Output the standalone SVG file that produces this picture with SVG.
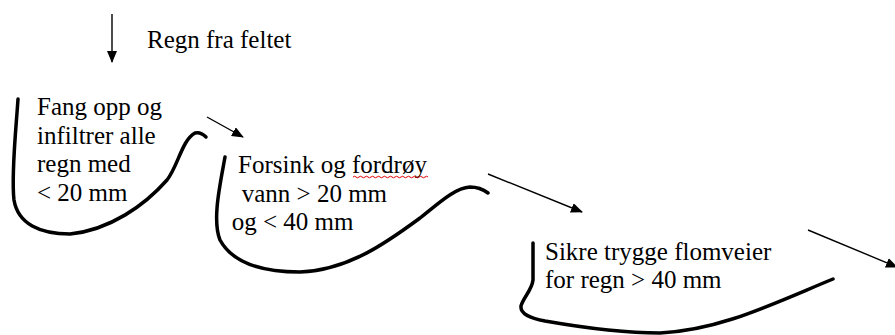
<svg xmlns="http://www.w3.org/2000/svg" width="895" height="335" viewBox="0 0 895 335">
<defs>
<style>
.c{fill:none;stroke:#000;stroke-width:3.5;stroke-linecap:round;stroke-linejoin:round}
.a{fill:none;stroke:#000;stroke-width:1.4}
</style>
<marker id="ah" viewBox="0 0 12 10" refX="11" refY="5" markerWidth="12" markerHeight="10" markerUnits="userSpaceOnUse" orient="auto">
<path d="M0,0 L12,5 L0,10 Z" fill="#000"/>
</marker>
</defs>
<rect width="895" height="335" fill="#fff"/>
<g id="connectors">
<line class="a" x1="112" y1="14" x2="112" y2="62" marker-end="url(#ah)"/>
<line class="a" x1="207" y1="117" x2="243" y2="137" marker-end="url(#ah)"/>
<line class="a" x1="488" y1="174" x2="582" y2="212" marker-end="url(#ah)"/>
<line class="a" x1="808" y1="230" x2="897" y2="267" marker-end="url(#ah)"/>
</g>
<g font-family="Liberation Serif, Times New Roman, serif" font-size="25" fill="#000">
<g id="rain">
<text x="147" y="48">Regn fra feltet</text>
</g>
<g id="step1">
<path class="c" d="M18,99 C16,130 11,175 14,200 C18,224 40,234 70,234 C110,230 145,205 167,180 C178,166 182,140 195,133 C199,132 203,134 206,137"/>
<text x="37" y="115">Fang opp og</text>
<text x="37" y="143.7">infiltrer alle</text>
<text x="37" y="172.4">regn med</text>
<text x="37" y="201">&lt; 20 mm</text>
</g>
<g id="step2">
<path class="c" d="M225,157 C220,185 212,220 220,240 C232,262 260,272 300,272 C350,270 390,240 420,218 C440,202 455,188 470,187 C478,187 484,190 488,193"/>
<text x="238" y="172.7">Forsink og fordrøy</text>
<path d="M353,177 q1.5,-1.5 3,0 t3,0 t3,0 t3,0 t3,0 t3,0 t3,0 t3,0 t3,0 t3,0 t3,0 t3,0 t3,0 t3,0 t3,0 t3,0 t3,0 t3,0 t3,0 t3,0 t3,0 t3,0 t3,0 t3,0 t3,0" fill="none" stroke="#d00" stroke-width="1"/>
<text x="241.7" y="201.7">vann &gt; 20 mm</text>
<text x="231.7" y="229.5">og &lt; 40 mm</text>
</g>
<g id="step3">
<path class="c" d="M533,243 L533,280 C532,290 523,298 521,306 C520,314 530,318 545,321 C585,328 620,333 660,333 C720,330 770,305 833,279"/>
<text x="545" y="260">Sikre trygge flomveier</text>
<text x="545" y="288">for regn &gt; 40 mm</text>
</g>
</g>
</svg>
